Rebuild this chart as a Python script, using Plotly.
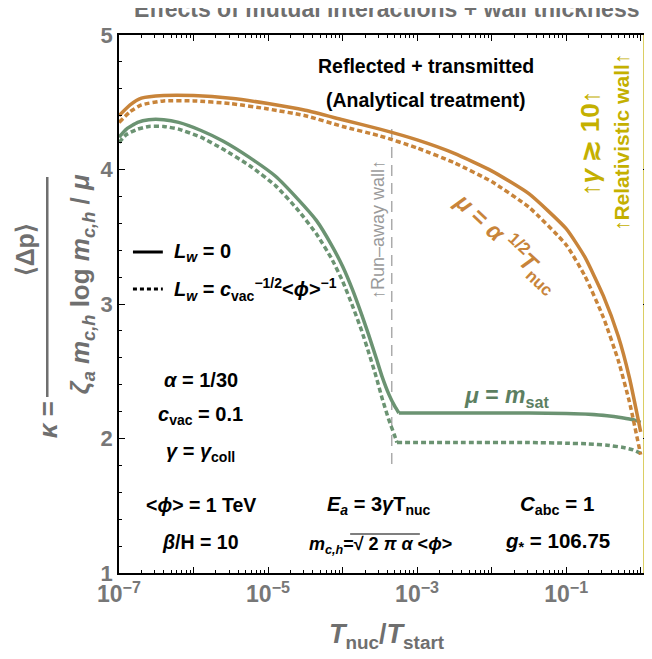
import plotly.graph_objects as go

# ---------------- data ----------------
# mu = alpha^1/2 T_nuc, L_w = 0   /  thick wall
x_orange = [1e-7, 1.41e-7, 2.0e-7, 3.98e-7, 1e-6, 3.16e-6, 1e-5, 3.16e-5, 1e-4, 3.16e-4,
            1e-3, 3.16e-3, 1e-2, 3.16e-2, 0.1, 0.178, 0.316, 0.501, 0.708, 1.0]
y_orange_solid = [4.40, 4.48, 4.53, 4.55, 4.55, 4.53, 4.49, 4.44, 4.37, 4.30,
                  4.22, 4.12, 3.99, 3.82, 3.56, 3.35, 3.06, 2.76, 2.45, 2.05]
y_orange_dash = [4.35, 4.43, 4.48, 4.51, 4.51, 4.49, 4.45, 4.40, 4.32, 4.25,
                 4.16, 4.05, 3.91, 3.72, 3.44, 3.21, 2.90, 2.58, 2.27, 1.88]
# mu = m_sat, L_w = 0 (falling branch, then the flat branch from the kink)
x_green_solid_fall = [1e-7, 1.26e-7, 1.78e-7, 2.51e-7, 3.98e-7, 6.31e-7, 1.26e-6, 2.51e-6, 5.62e-6,
                      1.26e-5, 2.51e-5, 4.47e-5, 7.08e-5, 1e-4, 1.35e-4, 1.78e-4, 2.24e-4, 2.82e-4,
                      3.39e-4, 4.17e-4, 5.01e-4, 5.69e-4]
y_green_solid_fall = [4.24, 4.30, 4.35, 4.37, 4.37, 4.35, 4.29, 4.21, 4.09,
                      3.95, 3.78, 3.62, 3.44, 3.28, 3.11, 2.93, 2.77, 2.60,
                      2.46, 2.33, 2.24, 2.19]
x_green_solid_flat = [5.69e-4, 3.16e-3, 3.16e-2, 0.1, 0.2, 0.355, 0.562, 0.794, 1.0]
y_green_solid_flat = [2.19, 2.19, 2.19, 2.185, 2.18, 2.17, 2.155, 2.14, 2.12]
# mu = m_sat, thick wall
x_green_dash_fall = [1e-7, 1.26e-7, 1.78e-7, 2.51e-7, 3.98e-7, 6.31e-7, 1.26e-6, 2.51e-6, 5.62e-6,
                     1.26e-5, 2.51e-5, 4.47e-5, 7.08e-5, 1e-4, 1.35e-4, 1.78e-4, 2.24e-4, 2.82e-4,
                     3.39e-4, 4.17e-4, 5.01e-4, 5.37e-4]
y_green_dash_fall = [4.20, 4.26, 4.30, 4.32, 4.32, 4.30, 4.24, 4.15, 4.03,
                     3.88, 3.70, 3.52, 3.34, 3.17, 2.99, 2.81, 2.64, 2.46,
                     2.30, 2.14, 2.02, 1.97]
x_green_dash_flat = [5.37e-4, 3.16e-3, 3.16e-2, 0.1, 0.2, 0.355, 0.562, 0.794, 1.0]
y_green_dash_flat = [1.97, 1.97, 1.97, 1.965, 1.96, 1.95, 1.935, 1.915, 1.89]

runaway_x = [4.57e-4, 4.57e-4]
runaway_y = [1.81, 4.35]
relativistic_x = [1.14, 1.14]
relativistic_y = [1.0, 5.0]

x_tick_vals = [1e-7, 1e-6, 1e-5, 1e-4, 1e-3, 1e-2, 1e-1, 1e0]
x_tick_text = ["10<sup>−7</sup>", "", "10<sup>−5</sup>", "", "10<sup>−3</sup>", "", "10<sup>−1</sup>", ""]
y_tick_vals = [1, 2, 3, 4, 5]
y_tick_text = ["1", "2", "3", "4", "5"]

# ---------------- style ----------------
ORANGE = "#c8843a"
GREEN = "#6b9372"
GREEN_TXT = "#5c7f62"
YELLOW = "#c4b000"
GRAY = "#6f6f6f"
FONT = "Liberation Sans"
OFF = 8                      # page body margin of the browser
W, H = 652 - OFF, 659 - OFF
L, R, T, B = 119, 651, 35, 573  # plot frame in screen pixels


def px(xp):
    return (xp - L) / (R - L)


def py(yp):
    return (B - yp) / (B - T)


fig = go.Figure()
DASH = "5px,3px"


def curve(x, y, color, dash=None):
    fig.add_trace(go.Scatter(x=x, y=y, mode="lines", line_shape="spline",
                             line=dict(color=color, width=3.5, dash=dash, smoothing=0.5),
                             showlegend=False))


fig.add_trace(go.Scatter(x=runaway_x, y=runaway_y, mode="lines",
                         line=dict(color="#ababab", width=1.5, dash="11px,7px"), showlegend=False))
fig.add_trace(go.Scatter(x=relativistic_x, y=relativistic_y, mode="lines",
                         line=dict(color=YELLOW, width=3), showlegend=False))
curve(x_green_dash_fall, y_green_dash_fall, GREEN, DASH)
curve(x_green_dash_flat, y_green_dash_flat, GREEN, DASH)
curve(x_green_solid_fall, y_green_solid_fall, GREEN)
curve(x_green_solid_flat, y_green_solid_flat, GREEN)
curve(x_orange, y_orange_dash, ORANGE, DASH)
curve(x_orange, y_orange_solid, ORANGE)

minor_x = [m * 10.0 ** e for e in range(-7, 1) for m in range(2, 10)]
minor_y = [v / 10 for v in range(10, 51, 2) if v % 10 != 0]

fig.update_xaxes(type="log", range=[-7, 0.112], showgrid=False, zeroline=False,
                 showline=True, linecolor="black", linewidth=1.5, mirror="allticks",
                 ticks="inside", ticklen=6, tickwidth=1.2, tickcolor="black",
                 tickvals=x_tick_vals, ticktext=x_tick_text,
                 tickfont=dict(family=FONT, size=23, color="#777777", weight="bold"),
                 minor=dict(ticks="inside", ticklen=3, tickwidth=1, tickcolor="black", tickvals=minor_x))
fig.update_yaxes(range=[1, 5], showgrid=False, zeroline=False,
                 showline=True, linecolor="black", linewidth=1.5, mirror="allticks",
                 ticks="inside", ticklen=6, tickwidth=1.2, tickcolor="black",
                 tickvals=y_tick_vals, ticktext=y_tick_text,
                 tickfont=dict(family=FONT, size=22, color="#777777", weight="bold"),
                 minor=dict(ticks="inside", ticklen=3, tickwidth=1, tickcolor="black", tickvals=minor_y))

ann = []


def add(text, xp, yp, size=20, color="black", angle=0, xanchor="center", bold=True, family=FONT):
    ann.append(dict(text=text, x=px(xp), y=py(yp), xref="paper", yref="paper",
                    showarrow=False, textangle=angle, xanchor=xanchor, yanchor="middle",
                    font=dict(family=family, size=size, color=color, weight="bold" if bold else "normal")))


add("Effects of mutual interactions + wall thickness", 388, 9, size=23, color=GRAY)
add("Reflected + transmitted", 427, 66, size=19.5)
add("(Analytical treatment)", 427, 100, size=19.5)
add("<i>L<sub>w</sub></i> = 0", 172, 252, size=20, xanchor="left")
add("<i>L<sub>w</sub></i> = <i>c</i><sub>vac</sub><sup>−1/2</sup>&lt;<i>ϕ</i>&gt;<sup>−1</sup>", 172, 289, size=20, xanchor="left")
add("<i>α</i> = 1/30", 201, 380, size=20)
add("<i>c</i><sub>vac</sub> = 0.1", 201, 415, size=20)
add("<i>γ</i> = <i>γ</i><sub>coll</sub>", 201, 452, size=20)
add("&lt;<i>ϕ</i>&gt; = 1 TeV", 201, 505, size=19.5)
add("<i>β</i>/H = 10", 201, 542, size=19.5)
add("<i>E<sub>a</sub></i> = 3<i>γ</i>T<sub>nuc</sub>", 380, 505, size=20)
add("<i>m<sub>c,h</sub></i>=√ 2 <i>π α</i> &lt;<i>ϕ</i>&gt;", 381, 545, size=18)
add("<i>C</i><sub>abc</sub> = 1", 559, 505, size=20.5)
add("<i>g</i><sub>*</sub> = 106.75", 559, 542, size=20.5)
add("<i>μ</i> = <i>m</i><sub>sat</sub>", 508, 396, size=23, color=GREEN_TXT)
add("<i>μ</i> = <i>α</i> <sup>1/2</sup><i>T</i><sub>nuc</sub>", 508, 242, size=24, color=ORANGE, angle=43)
add("↑Run–away wall↑", 379, 230, size=18, color="#9a9a9a", angle=-90, bold=False)
add("↑<i>γ</i> ≳ 10↑", 592, 143, size=26, color=YELLOW, angle=-90)
add("↑Relativistic wall↑", 623, 143, size=21, color=YELLOW, angle=-90)
# axis titles
add("<i>T</i><sub>nuc</sub>/<i>T</i><sub>start</sub>", 388, 636, size=27, color=GRAY)
add("<i>κ</i> =", 48, 420, size=26, color=GRAY, angle=-90)
add("⟨Δp⟩", 25, 250, size=25, color=GRAY, angle=-90)
add("<i>ζ<sub>a</sub> m<sub>c,h</sub></i> log <i>m<sub>c,h</sub></i> / <i>μ</i>", 81, 284, size=26, color=GRAY, angle=-90)

shapes = [
    dict(type="line", xref="paper", yref="paper", x0=px(133), x1=px(163), y0=py(252), y1=py(252),
         line=dict(color="black", width=3)),
    dict(type="line", xref="paper", yref="paper", x0=px(133), x1=px(163), y0=py(289), y1=py(289),
         line=dict(color="black", width=3, dash="4px,3px")),
    dict(type="line", xref="paper", yref="paper", x0=px(47), x1=px(47), y0=py(177), y1=py(397),
         line=dict(color=GRAY, width=2.5)),
    # square-root overline
    dict(type="line", xref="paper", yref="paper", x0=px(351), x1=px(421), y0=py(534), y1=py(534),
         line=dict(color="black", width=1.2)),
]

fig.update_layout(width=W, height=H,
                  margin=dict(l=L - OFF, r=W - (R - OFF), t=T - OFF, b=H - (B - OFF), pad=0),
                  paper_bgcolor="white", plot_bgcolor="white", showlegend=False,
                  annotations=ann, shapes=shapes)
fig.write_html("out.html")
